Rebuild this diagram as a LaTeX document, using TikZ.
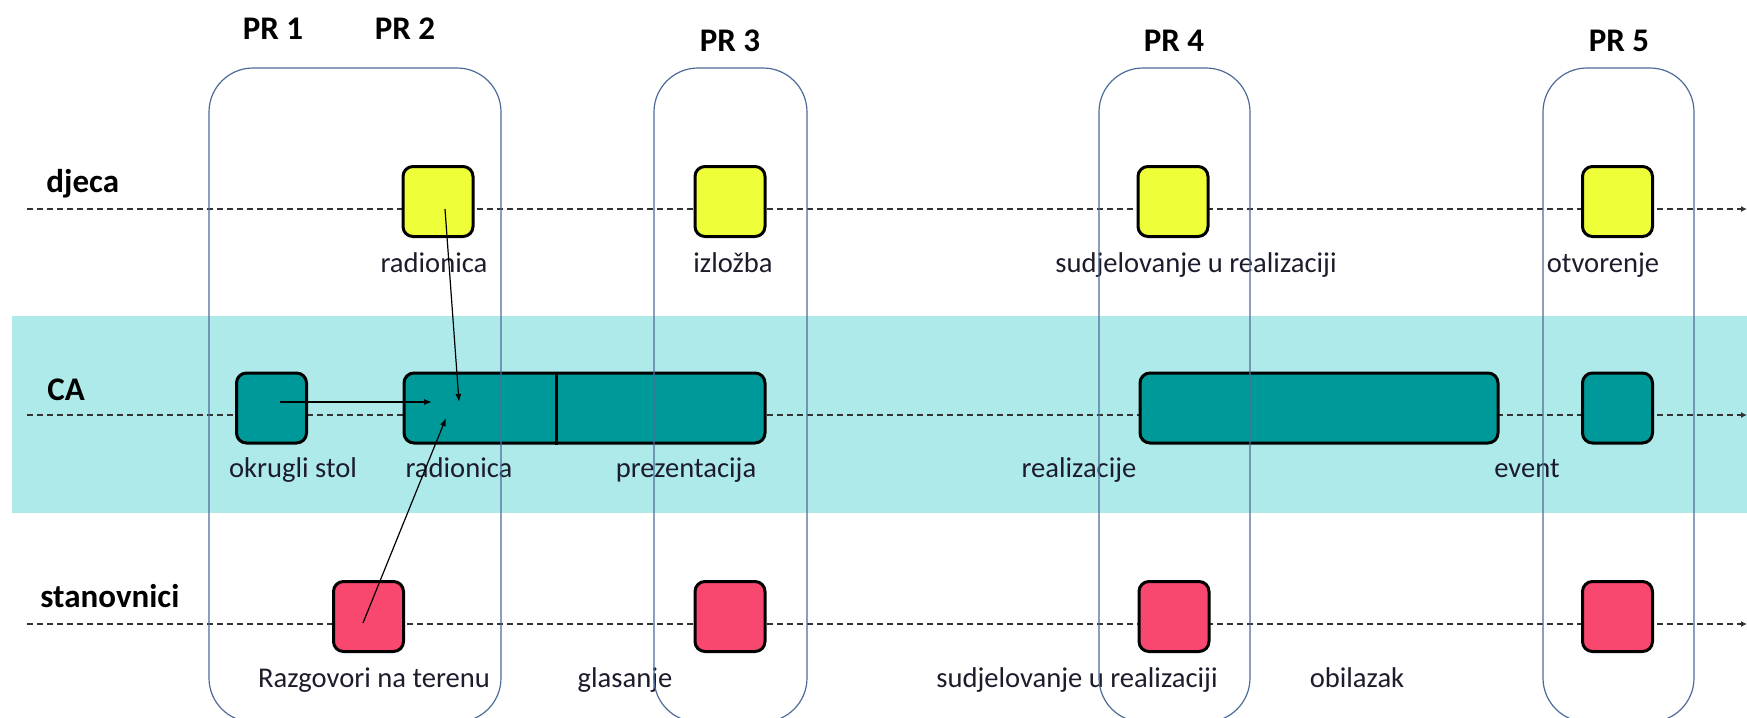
\documentclass[tikz,border=0pt]{standalone}
\usepackage{fontspec}
\setmainfont{Carlito}
\usetikzlibrary{arrows.meta,calc}
\definecolor{band}{HTML}{AEEAEA}
\definecolor{yel}{HTML}{EEFF3A}
\definecolor{tealbox}{HTML}{009999}
\definecolor{pinkbox}{HTML}{F94870}
\definecolor{prline}{HTML}{4D6B99}
\definecolor{txt}{HTML}{1C1C2C}
\begin{document}
\begin{tikzpicture}[x=0.5pt,y=-0.5pt,
 sq/.style={draw=black, line width=1.5pt, rounded corners=5pt, minimum width=35pt, minimum height=35pt, inner sep=0pt},
 prbox/.style={draw=prline, line width=0.6pt, rounded corners=22pt},
 lane/.style={draw=black!80, line width=0.9pt, dash pattern=on 3pt off 2pt, -{Latex[length=3pt,width=3pt]}},
 lbl/.style={font=\fontsize{14.3}{17}\selectfont, text=txt, anchor=base, inner sep=0pt},
 rowlbl/.style={font=\fontsize{16.5}{20}\selectfont\bfseries, anchor=base west, inner sep=0pt},
 prlbl/.style={font=\fontsize{16.5}{20}\selectfont\bfseries, anchor=base, inner sep=0pt},
 link/.style={draw=black, line width=0.6pt, -{Latex[length=4pt,width=3pt]}}
]
\useasboundingbox (0,0) rectangle (1747,718);
\clip (0,0) rectangle (1747,718);
% band
\fill[band] (12,316) rectangle (1747,513);
% lanes
\coordinate (d0) at (27,209); \coordinate (d1) at (1747,209);
\coordinate (e0) at (27,415); \coordinate (e1) at (1747,415);
\coordinate (f0) at (27,624); \coordinate (f1) at (1747,624);
\draw[lane] (d0) -- (d1);
\draw[lane] (e0) -- (e1);
\draw[lane] (f0) -- (f1);
% row labels
\node[rowlbl] (rdjeca) at (46,192) {djeca};
\node[rowlbl] (rca) at (47,400) {CA};
\node[rowlbl] (rstan) at (40,607) {stanovnici};
% PR labels
\node[prlbl] (pr1) at (273,39) {PR 1};
\node[prlbl] (pr2) at (405,39) {PR 2};
\node[prlbl] (pr3) at (730,51) {PR 3};
\node[prlbl] (pr4) at (1174,51) {PR 4};
\node[prlbl] (pr5) at (1619,51) {PR 5};
% djeca squares
\node[sq, fill=yel] (y2) at (438,201.5) {};
\node[sq, fill=yel] (y3) at (730,201.5) {};
\node[sq, fill=yel] (y4) at (1173,201.5) {};
\node[sq, fill=yel] (y5) at (1617.5,201.5) {};
% CA boxes
\node[sq, fill=tealbox] (c1) at (271.5,408) {};
\node[sq, fill=tealbox, minimum width=180.5pt] (c2) at (584.5,408) {};
\coordinate (div) at (556,408);
\draw[line width=1.5pt] (div |- c2.north) -- (div |- c2.south);
\node[sq, fill=tealbox, minimum width=179pt] (c4) at (1319,408) {};
\node[sq, fill=tealbox] (c5) at (1617.5,408) {};
% stanovnici squares
\node[sq, fill=pinkbox] (p1) at (368.5,616.5) {};
\node[sq, fill=pinkbox] (p3) at (730,616.5) {};
\node[sq, fill=pinkbox] (p4) at (1174,616.5) {};
\node[sq, fill=pinkbox] (p5) at (1617.5,616.5) {};
% labels
\node[lbl] (l1) at (434,272) {radionica};
\node[lbl] (l2) at (733,272) {izložba};
\node[lbl] (l3) at (1196,272) {sudjelovanje u realizaciji};
\node[lbl] (l4) at (1603,272) {otvorenje};
\node[lbl] (l5) at (293,477) {okrugli stol};
\node[lbl] (l6) at (459,477) {radionica};
\node[lbl] (l7) at (686,477) {prezentacija};
\node[lbl] (l8) at (1079,477) {realizacije};
\node[lbl] (l9) at (1527,477) {event};
\node[lbl] (l10) at (374,687) {Razgovori na terenu};
\node[lbl] (l11) at (625,687) {glasanje};
\node[lbl] (l12) at (1077,687) {sudjelovanje u realizaciji};
\node[lbl] (l13) at (1357,687) {obilazak};
% PR boxes
\draw[prbox] (209,68) rectangle (501,722);
\draw[prbox] (654,68) rectangle (807,722);
\draw[prbox] (1099,68) rectangle (1250,722);
\draw[prbox] (1543,68) rectangle (1694,722);
% links
\coordinate (a1e) at (459,402);
\coordinate (a2e) at (432,402);
\coordinate (a3e) at (446,418);
\draw[link] ($(y2)+(7,7.5)$) -- (a1e);
\draw[link] ($(c1)+(8.5,-6)$) -- (a2e);
\draw[link] ($(p1)+(-5.5,6.5)$) -- (a3e);
\end{tikzpicture}
\end{document}
